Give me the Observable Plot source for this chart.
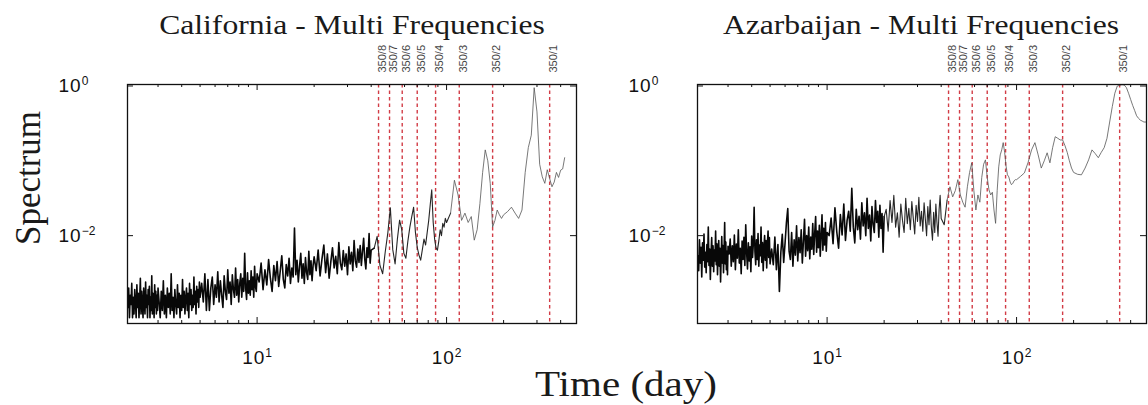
<!DOCTYPE html>
<html><head><meta charset="utf-8">
<script src="https://cdn.jsdelivr.net/npm/d3@7"></script>
<script src="https://cdn.jsdelivr.net/npm/@observablehq/plot@0.6"></script>
<style>
body{margin:0;background:#fff;}
#wrap{position:relative;width:1148px;height:405px;overflow:hidden;background:#fff;}
.panel{position:absolute;top:0;}
.serif{position:absolute;font-family:"Liberation Serif","Times New Roman",serif;white-space:nowrap;line-height:1;color:#1a1a1a;}
.title{font-size:28px;transform:translateX(-50%) scaleX(1.13);}
#ylab{font-size:35px;transform:translate(-50%,-50%) rotate(-90deg);}
#xlab{font-size:36px;transform:translateX(-50%) scaleX(1.14);}
</style></head>
<body>
<div id="wrap">
  <div id="p1" class="panel" style="left:0px"></div>
  <div id="p2" class="panel" style="left:570px"></div>
  <div class="serif title" style="left:352px;top:11px">California - Multi Frequencies</div>
  <div class="serif title" style="left:921px;top:11px">Azarbaijan - Multi Frequencies</div>
  <div id="ylab" class="serif" style="left:28px;top:178px">Spectrum</div>
  <div id="xlab" class="serif" style="left:626px;top:366px">Time (day)</div>
</div>
<script>
// Period grid (days)
const periods = [
  2.08,2.10,2.12,2.14,2.16,2.18,2.20,2.22,2.24,2.26,2.28,2.30,2.32,2.34,2.36,2.38,2.40,2.42,2.44,2.46,2.48,2.50,2.52,2.54,2.56,2.58,2.60,2.62,2.64,2.66,2.68,2.70,2.72,2.74,2.76,2.78,2.80,2.82,2.84,2.86,2.88,2.90,2.92,2.94,2.96,2.98,3.00,
  3.04,3.08,3.12,3.16,3.20,3.24,3.28,3.32,3.36,3.40,3.44,3.48,3.52,3.56,3.60,3.64,3.68,3.72,3.76,3.80,3.84,3.88,3.92,3.96,4.00,4.04,4.08,4.12,4.16,4.20,4.24,4.28,4.32,4.36,4.40,4.44,4.48,4.52,4.56,4.60,4.64,4.68,4.72,4.76,4.80,4.84,4.88,4.92,4.96,5.00,
  5.1,5.2,5.3,5.4,5.5,5.6,5.7,5.8,5.9,6.0,6.1,6.2,6.3,6.4,6.5,6.6,6.7,6.8,6.9,7.0,7.1,7.2,7.3,7.4,7.5,7.6,7.7,7.8,7.9,8.0,8.1,8.2,8.3,8.4,8.5,8.6,8.7,8.8,8.9,9.0,9.1,9.2,9.3,9.4,9.5,9.6,9.7,9.8,9.9,10.0,
  10.25,10.5,10.75,11,11.25,11.5,11.75,12,12.25,12.5,12.75,13,13.25,13.5,13.75,14,14.25,14.5,14.75,15,15.25,15.5,15.75,16,16.25,16.5,16.75,17,17.25,17.5,17.75,18,18.25,18.5,18.75,19,19.25,19.5,19.75,20,
  20.5,21,21.5,22,22.5,23,23.5,24,24.5,25,25.5,26,26.5,27,27.5,28,28.5,29,29.5,30,30.5,31,31.5,32,32.5,33,33.5,34,34.5,35,35.5,36,36.5,37,37.5,38,38.5,39,39.5,40,
  41.5,43,44.5,46,47.5,49,50.5,52,53.5,55,56.5,58,59.5,61,62.5,64,65.5,67,68.5,70,71.5,73,74.5,76,77.5,79,80.5,82,83.5,85,86.5,88,89.5,91,92.5,94,95.5,97,98.5,100,
  105,110,115,120,125,130,135,140,145,150,155,160,165,170,175,180,185,190,195,200,
  210,220,230,240,250,260,270,280,290,300,310,320,330,340,350,360,370,380,390,400,410,420,430,440,450,460,470,480
];

const californiaSpectrum = [
  0.0011,0.0020,0.0008,0.0016,0.0012,0.0023,0.0008,0.0015,0.0009,0.0019,
  0.0013,0.0008,0.0022,0.0011,0.0017,0.0008,0.0014,0.0027,0.0009,0.0018,
  0.0012,0.0008,0.0020,0.0013,0.0009,0.0024,0.0011,0.0016,0.0008,0.0019,
  0.0012,0.0021,0.0008,0.0015,0.0010,0.0029,0.0009,0.0017,0.0013,0.0008,
  0.0022,0.0011,0.0018,0.0009,0.0016,0.0010,0.0020,
  0.0013,0.0008,0.0018,0.0010,0.0025,0.0009,0.0016,0.0008,0.0020,0.0011,
  0.0017,0.0009,0.0031,0.0010,0.0015,0.0008,0.0019,0.0012,0.0009,0.0022,
  0.0011,0.0017,0.0008,0.0016,0.0010,0.0026,0.0011,0.0018,0.0009,0.0015,
  0.0020,0.0010,0.0017,0.0008,0.0023,0.0012,0.0019,0.0010,0.0016,0.0011,
  0.0028,0.0012,0.0018,0.0009,0.0021,0.0013,0.0019,0.0011,0.0024,0.0015,
  0.0023,0.0013,0.0031,0.0010,0.0026,0.0010,0.0020,0.0028,0.0012,0.0022,
  0.0015,0.0033,0.0013,0.0025,0.0016,0.0011,0.0029,0.0018,0.0014,0.0035,
  0.0017,0.0024,0.0012,0.0030,0.0019,0.0015,0.0037,0.0016,0.0026,0.0013,
  0.0023,0.0031,0.0015,0.0027,0.0018,0.0058,0.0020,0.0014,0.0032,0.0017,
  0.0025,0.0016,0.0034,0.0019,0.0028,0.0015,0.0039,0.0021,0.0018,0.0031,
  0.0024,0.0043,0.0019,0.0035,0.0022,0.0048,0.0027,0.0018,0.0040,0.0025,
  0.0045,0.0021,0.0034,0.0054,0.0026,0.0020,0.0041,0.0029,0.0050,0.0023,
  0.0037,0.0028,0.0126,0.0030,0.0047,0.0024,0.0039,0.0058,0.0027,0.0042,
  0.0023,0.0051,0.0032,0.0026,0.0062,0.0030,0.0046,0.0025,0.0040,0.0052,
  0.0034,0.0064,0.0029,0.0049,0.0075,0.0032,0.0057,0.0027,0.0045,0.0069,
  0.0037,0.0053,0.0031,0.0081,0.0043,0.0035,0.0063,0.0039,0.0057,0.0030,
  0.0071,0.0042,0.0060,0.0034,0.0086,0.0046,0.0038,0.0066,0.0044,0.0074,
  0.0040,0.0062,0.0092,0.0048,0.0036,0.0069,0.0051,0.0107,0.0043,0.0064,
  0.0068,0.0098,0.0040,0.0031,0.0062,0.0110,0.0236,0.0065,0.0042,0.0090,
  0.0161,0.0120,0.0058,0.0050,0.0085,0.0130,0.0180,0.0240,0.0110,0.0070,
  0.0055,0.0047,0.0065,0.0090,0.0075,0.0110,0.0160,0.0260,0.0410,0.0150,
  0.0090,0.0068,0.0064,0.0085,0.0120,0.0100,0.0146,0.0130,0.0170,0.0150,
  0.020,0.055,0.035,0.016,0.020,0.015,0.018,0.0087,0.012,0.027,
  0.070,0.140,0.100,0.050,0.013,0.016,0.022,0.019,0.017,0.019,
  0.021,0.024,0.020,0.017,0.022,0.070,0.150,0.220,0.950,0.450,0.090,
  0.061,0.050,0.076,0.058,0.045,0.052,0.070,0.060,0.075,0.078,0.110
];

const azarbaijanSpectrum = [
  0.0054,0.0034,0.0088,0.0043,0.0070,0.0028,0.0080,0.0047,0.0105,0.0038,
  0.0060,0.0032,0.0076,0.0045,0.0130,0.0040,0.0066,0.0026,0.0057,0.0094,
  0.0039,0.0073,0.0033,0.0064,0.0046,0.0115,0.0041,0.0078,0.0030,0.0059,
  0.0086,0.0039,0.0068,0.0024,0.0052,0.0097,0.0043,0.0074,0.0032,0.0065,
  0.0150,0.0042,0.0082,0.0035,0.0062,0.0030,0.0072,
  0.0057,0.0090,0.0039,0.0073,0.0045,0.0102,0.0035,0.0077,0.0050,0.0120,
  0.0043,0.0068,0.0031,0.0085,0.0048,0.0095,0.0040,0.0140,0.0060,0.0036,
  0.0080,0.0046,0.0071,0.0033,0.0099,0.0051,0.0078,0.0240,0.0062,0.0041,
  0.0088,0.0048,0.0107,0.0039,0.0075,0.0054,0.0130,0.0044,0.0081,0.0034,
  0.0068,0.0100,0.0047,0.0086,0.0037,0.0076,0.0115,0.0051,0.0094,0.0042,
  0.0066,0.0041,0.0096,0.0035,0.0076,0.0018,0.0060,0.0104,0.0044,0.0080,
  0.0150,0.0230,0.0062,0.0048,0.0110,0.0039,0.0088,0.0055,0.0135,0.0046,
  0.0094,0.0059,0.0120,0.0043,0.0085,0.0165,0.0053,0.0100,0.0063,0.0130,
  0.0049,0.0096,0.0066,0.0145,0.0056,0.0107,0.0180,0.0060,0.0115,0.0069,
  0.0138,0.0053,0.0102,0.0190,0.0064,0.0125,0.0075,0.0150,0.0062,0.0110,
  0.0100,0.0172,0.0078,0.0235,0.0112,0.0068,0.0192,0.0102,0.0265,0.0086,
  0.0160,0.0212,0.0115,0.0430,0.0130,0.0080,0.0225,0.0120,0.0182,0.0090,
  0.0275,0.0135,0.0202,0.0100,0.0315,0.0125,0.0188,0.0085,0.0245,0.0140,
  0.0110,0.0295,0.0150,0.0212,0.0095,0.0255,0.0125,0.0198,0.0060,0.0180,
  0.0225,0.0115,0.0295,0.0150,0.0345,0.0130,0.0202,0.0095,0.0265,0.0160,
  0.0110,0.0315,0.0145,0.0232,0.0120,0.0285,0.0170,0.0105,0.0255,0.0155,
  0.0325,0.0135,0.0212,0.0115,0.0275,0.0165,0.0100,0.0245,0.0140,0.0300,
  0.0130,0.0087,0.0205,0.0110,0.0265,0.0150,0.0098,0.0222,0.0345,0.0170,
  0.014,0.030,0.045,0.033,0.040,0.056,0.035,0.028,0.024,0.045,
  0.070,0.094,0.040,0.022,0.035,0.028,0.060,0.090,0.103,0.060,
  0.041,0.035,0.038,0.022,0.0146,0.040,0.083,0.120,0.140,0.175,
  0.130,0.085,0.065,0.061,0.052,0.048,0.050,0.054,0.056,0.056,
  0.062,0.069,0.095,0.140,0.175,0.120,0.080,0.100,0.128,0.094,
  0.150,0.210,0.200,0.190,0.190,0.160,0.130,0.100,0.080,0.070,
  0.066,0.065,0.080,0.103,0.140,0.125,0.110,0.130,0.150,0.200,
  0.330,0.530,0.800,1.000,1.020,1.040,1.030,0.950,0.800,0.660,
  0.550,0.470,0.400,0.370,0.350,0.340,0.330,0.330
];

const harmonicPeriods = [350, 175, 116.67, 87.5, 70, 58.33, 50, 43.75];
const harmonicLabels = ["350/1","350/2","350/3","350/4","350/5","350/6","350/7","350/8"];
const xMajorTicks = [10, 100];
const xMinorTicks = [3,4,5,6,7,8,9,20,30,40,50,60,70,80,90,200,300,400];
const yMajorTicks = [1, 0.01];

const innerW = 449, innerH = 239;
const fmt = d => "10^" + String(Math.round(Math.log10(d))).replace("-", "\u2212");

function panel(values, width, denseLimit, sparseLimit) {
  const data = values.map((v, i) => ({t: periods[i], s: v}));
  const dense = data.filter(d => d.t <= denseLimit);
  const mid = data.filter(d => d.t >= denseLimit && d.t <= sparseLimit);
  const sparse = data.filter(d => d.t >= sparseLimit);
  const svg = Plot.plot({
    width, height: 405,
    marginLeft: 127, marginRight: width - 127 - innerW, marginTop: 84, marginBottom: 82,
    x: {type: "log", domain: [2.07, 485]},
    y: {type: "log", domain: [0.00067, 1.047]},
    style: {fontFamily: "'Liberation Sans', Arial, sans-serif", fontSize: "18px", color: "#111", background: "transparent", overflow: "visible"},
    marks: [
      Plot.ruleX(harmonicPeriods, {x: d => d, stroke: "#d23c46", strokeDasharray: "3.5,3", strokeWidth: 1.4}),
      Plot.line(dense, {x: "t", y: "s", stroke: "#080808", strokeWidth: 1.6, clip: true}),
      Plot.line(mid, {x: "t", y: "s", stroke: "#262626", strokeWidth: 1.1, clip: true}),
      Plot.line(sparse, {x: "t", y: "s", stroke: "#555", strokeWidth: 0.8, clip: true}),
      Plot.frame({stroke: "#111", strokeWidth: 1.3}),
      Plot.tickX(xMajorTicks, {x: d => d, insetTop: innerH - 6, stroke: "#111"}),
      Plot.tickX(xMajorTicks, {x: d => d, insetBottom: innerH - 6, stroke: "#111"}),
      Plot.tickX(xMinorTicks, {x: d => d, insetTop: innerH - 3, stroke: "#111"}),
      Plot.tickX(xMinorTicks, {x: d => d, insetBottom: innerH - 3, stroke: "#111"}),
      Plot.tickY(yMajorTicks, {y: d => d, insetRight: innerW - 6, stroke: "#111"}),
      Plot.tickY(yMajorTicks, {y: d => d, insetLeft: innerW - 6, stroke: "#111"}),
      Plot.axisX(xMajorTicks, {tickSize: 0, tickPadding: 27, tickFormat: fmt, label: null, fontSize: 19, fill: "#111"}),
      Plot.axisY(yMajorTicks, {tickSize: 0, textAnchor: "start", dx: -60, tickFormat: fmt, label: null, fontSize: 19, fill: "#111"}),
      Plot.text(harmonicPeriods, {x: d => d, text: harmonicLabels, frameAnchor: "top", rotate: -90, textAnchor: "start", dy: -12, fontSize: 11, fill: "#444"})
    ]
  });
  d3.select(svg).selectAll("text").each(function() {
    const m = this.textContent.match(/^10\^(.+)$/);
    if (!m) return;
    const sel = d3.select(this);
    sel.attr("letter-spacing", "1px");
    sel.text("10");
    sel.append("tspan").attr("dy", "-0.6em").attr("font-size", "12px").attr("letter-spacing", "0px").text(m[1]);
  });
  return svg;
}

document.getElementById("p1").appendChild(panel(californiaSpectrum, 600, 41.5, 105));
document.getElementById("p2").appendChild(panel(azarbaijanSpectrum, 578, 20, 43));
</script>
</body></html>
